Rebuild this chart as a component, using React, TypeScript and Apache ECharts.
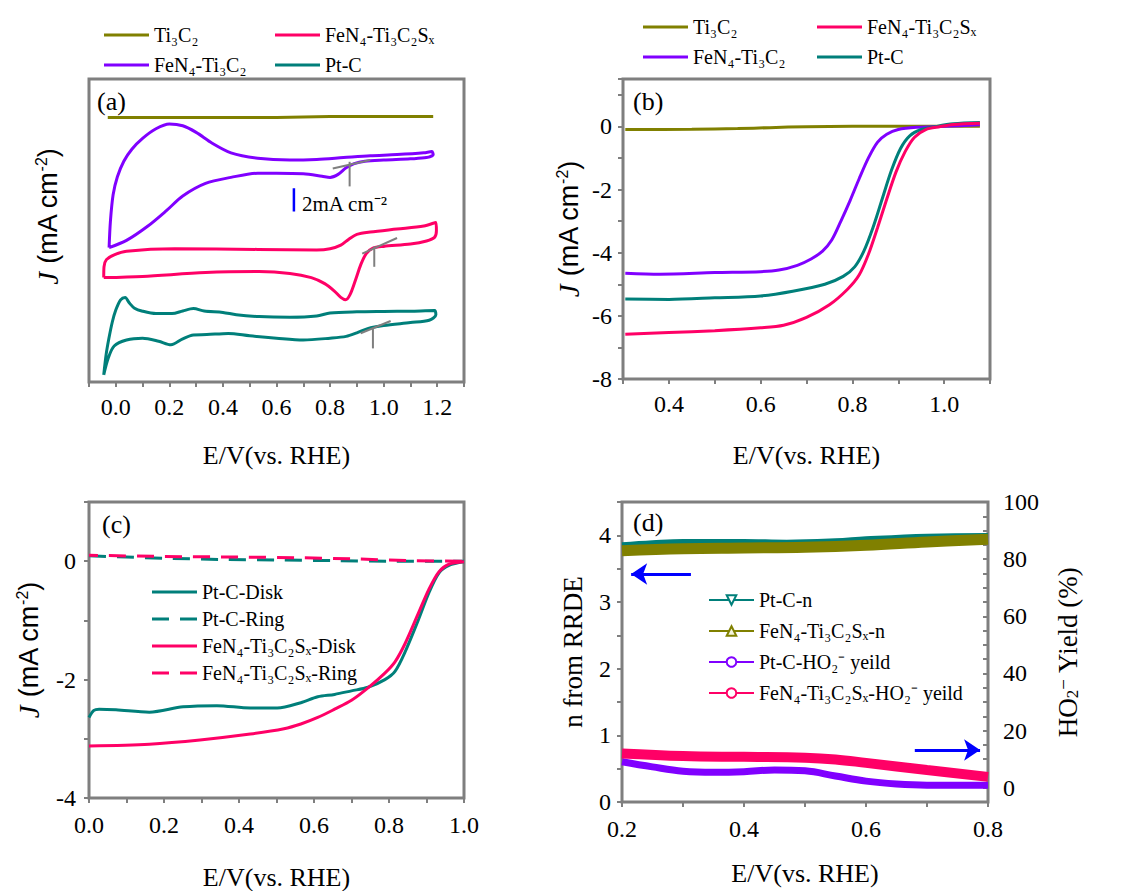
import React, { useEffect, useRef } from 'react';
import * as echarts from 'echarts';

const SERIF = '"Liberation Serif", "Times New Roman", serif';
const SANS = '"Liberation Sans", Arial, sans-serif';
const OLIVE = '#808000';
const PURPLE = '#8000ff';
const PINK = '#ff0066';
const TEAL = '#007f7a';
const GRAY = '#7f7f7f';
const BLUE = '#0000ff';

// Legend names
const N_TI3C2 = 'Ti₃C₂';
const N_FEN4 = 'FeN₄-Ti₃C₂';
const N_FEN4S = 'FeN₄-Ti₃C₂Sₓ';
const N_PTC = 'Pt-C';
const C_NAMES = ['Pt-C-Disk', 'Pt-C-Ring', 'FeN₄-Ti₃C₂Sₓ-Disk', 'FeN₄-Ti₃C₂Sₓ-Ring'];
const D_NAMES = ['Pt-C-n', 'FeN₄-Ti₃C₂Sₓ-n', 'Pt-C-HO₂⁻ yeild', 'FeN₄-Ti₃C₂Sₓ-HO₂⁻ yeild'];

// (a) CV curves (offset, arbitrary vertical units in mA cm-2)
const A_TI3C2 = [[-0.03, 22.05], [0.3, 22.05], [0.6, 22.05], [0.8, 22.12], [1.0, 22.12], [1.185, 22.12]];
const A_FEN4 = [[-0.025, 11.2], [-0.02, 13.4], [-0.01, 15.6], [0.006, 17.1], [0.03, 18.4], [0.06, 19.4], [0.1, 20.3], [0.15, 21.1], [0.2, 21.5], [0.25, 21.35], [0.3, 20.8], [0.36, 19.9], [0.43, 19.1], [0.53, 18.65], [0.65, 18.5], [0.75, 18.55], [0.85, 18.7], [0.95, 18.85], [1.05, 18.95], [1.15, 19.1], [1.18, 19.2], [1.185, 18.95], [1.16, 18.7], [1.1, 18.6], [1.0, 18.5], [0.93, 18.4], [0.89, 18.2], [0.86, 17.85], [0.83, 17.3], [0.8, 17.05], [0.77, 17.15], [0.7, 17.35], [0.6, 17.4], [0.53, 17.4], [0.43, 17.05], [0.335, 16.55], [0.25, 15.5], [0.19, 14.3], [0.12, 13.0], [0.04, 11.8], [-0.025, 11.2]];
const A_FEN4S = [[-0.045, 8.7], [-0.044, 9.6], [-0.035, 10.2], [-0.006, 10.6], [0.04, 10.9], [0.22, 11.1], [0.53, 11.05], [0.75, 11.0], [0.8, 11.1], [0.84, 11.4], [0.87, 11.9], [0.9, 12.3], [0.95, 12.5], [1.05, 12.75], [1.15, 13.0], [1.195, 13.3], [1.197, 12.6], [1.19, 12.05], [1.16, 11.75], [1.1, 11.5], [1.0, 11.3], [0.96, 11.15], [0.935, 10.7], [0.915, 9.8], [0.895, 8.5], [0.875, 7.3], [0.858, 6.85], [0.84, 7.05], [0.815, 7.6], [0.78, 8.2], [0.73, 8.7], [0.65, 9.05], [0.535, 9.2], [0.335, 9.12], [0.1, 8.8], [-0.045, 8.7]];
const A_PTC = [[-0.045, 0.6], [-0.036, 2.3], [-0.026, 3.6], [-0.013, 5.0], [0.0, 6.0], [0.018, 6.85], [0.035, 7.05], [0.05, 6.6], [0.07, 6.15], [0.1, 5.9], [0.15, 5.7], [0.21, 5.7], [0.25, 5.92], [0.29, 6.12], [0.33, 5.92], [0.4, 5.8], [0.45, 5.6], [0.535, 5.45], [0.65, 5.4], [0.75, 5.5], [0.8, 5.75], [0.9, 5.85], [1.0, 5.88], [1.1, 5.9], [1.19, 5.95], [1.195, 5.6], [1.17, 5.15], [1.1, 4.95], [1.0, 4.7], [0.94, 4.45], [0.9, 4.1], [0.86, 3.8], [0.8, 3.65], [0.7, 3.5], [0.6, 3.65], [0.5, 3.85], [0.42, 4.05], [0.34, 3.95], [0.29, 3.92], [0.25, 3.6], [0.206, 3.1], [0.16, 3.4], [0.1, 3.65], [0.04, 3.5], [-0.006, 3.0], [-0.028, 2.0], [-0.045, 0.6]];
const A_ONSET_MARKS = [
  [[0.81, 17.8], [0.95, 18.5]],
  [[0.873, 18.35], [0.873, 16.3]],
  [[0.92, 10.7], [1.05, 12.0]],
  [[0.965, 11.3], [0.965, 9.6]],
  [[0.914, 4.06], [1.026, 5.08]],
  [[0.96, 4.47], [0.96, 2.8]],
];
const A_SCALE_BAR = [[0.665, 14.2], [0.665, 16.15]];

// (b) LSV curves
const B_TI3C2 = [[0.305, -0.1], [0.45, -0.09], [0.55, -0.07], [0.62, -0.04], [0.7, -0.01], [0.8, 0], [1.0, 0], [1.078, 0]];
const B_FEN4 = [[0.305, -4.65], [0.38, -4.68], [0.5, -4.63], [0.6, -4.6], [0.64, -4.55], [0.68, -4.4], [0.71, -4.2], [0.735, -3.95], [0.755, -3.6], [0.775, -3.0], [0.795, -2.35], [0.815, -1.65], [0.835, -1.0], [0.855, -0.5], [0.875, -0.25], [0.9, -0.1], [0.94, -0.03], [1.0, 0], [1.078, 0.05]];
const B_PTC = [[0.305, -5.47], [0.4, -5.48], [0.5, -5.43], [0.6, -5.37], [0.67, -5.22], [0.74, -5.0], [0.78, -4.75], [0.805, -4.45], [0.825, -3.95], [0.845, -3.2], [0.865, -2.3], [0.885, -1.4], [0.905, -0.7], [0.925, -0.3], [0.95, -0.1], [0.98, -0.01], [1.02, 0.08], [1.078, 0.12]];
const B_FEN4S = [[0.305, -6.58], [0.4, -6.53], [0.5, -6.47], [0.6, -6.38], [0.65, -6.3], [0.7, -6.05], [0.75, -5.65], [0.79, -5.15], [0.815, -4.7], [0.835, -4.05], [0.855, -3.2], [0.875, -2.3], [0.895, -1.45], [0.915, -0.8], [0.935, -0.35], [0.96, -0.1], [0.99, -0.01], [1.02, 0.06], [1.078, 0.1]];

// (c) RRDE disk / ring
const C_PTC_DISK = [[0, -2.64], [0.013, -2.52], [0.027, -2.5], [0.072, -2.51], [0.161, -2.55], [0.251, -2.46], [0.341, -2.44], [0.43, -2.48], [0.502, -2.48], [0.565, -2.39], [0.61, -2.29], [0.655, -2.25], [0.7, -2.19], [0.744, -2.13], [0.789, -2.0], [0.816, -1.86], [0.843, -1.53], [0.879, -0.98], [0.906, -0.54], [0.933, -0.2], [0.96, -0.07], [1.0, -0.01]];
const C_PTC_RING = [[0, 0.09], [0.1, 0.07], [0.2, 0.05], [0.35, 0.03], [0.5, 0.02], [0.65, 0.01], [0.8, 0], [1.0, 0]];
const C_FEN4S_DISK = [[0, -3.12], [0.161, -3.09], [0.296, -3.02], [0.43, -2.92], [0.52, -2.83], [0.565, -2.75], [0.61, -2.64], [0.655, -2.5], [0.7, -2.35], [0.744, -2.14], [0.789, -1.89], [0.816, -1.7], [0.843, -1.39], [0.879, -0.87], [0.906, -0.48], [0.933, -0.18], [0.96, -0.05], [1.0, -0.01]];
const C_FEN4S_RING = [[0, 0.1], [0.2, 0.08], [0.4, 0.07], [0.55, 0.06], [0.7, 0.04], [0.85, 0.01], [1.0, 0]];

// (d) electron number and HO2- yield
const D_PTC_N = [[0.2, 3.85], [0.25, 3.88], [0.3, 3.9], [0.4, 3.9], [0.47, 3.89], [0.55, 3.91], [0.6, 3.94], [0.7, 3.98], [0.8, 3.99]];
const D_FEN4S_N = [[0.2, 3.77], [0.3, 3.8], [0.4, 3.81], [0.5, 3.82], [0.6, 3.85], [0.7, 3.9], [0.8, 3.94]];
const D_PTC_Y = [[0.2, 9.1], [0.25, 7.3], [0.3, 5.8], [0.35, 5.4], [0.4, 5.6], [0.45, 6.2], [0.5, 5.9], [0.55, 4.1], [0.6, 2.3], [0.65, 1.3], [0.7, 0.9], [0.8, 0.9]];
const D_FEN4S_Y = [[0.2, 12.0], [0.3, 11.1], [0.4, 10.8], [0.5, 10.5], [0.55, 9.9], [0.6, 8.7], [0.7, 6.2], [0.8, 3.8]];
const D_ARROW_LEFT = [[0.313, 3.42], [0.215, 3.42]];
const D_ARROW_RIGHT = [[0.68, 13.2], [0.787, 13.2]];

const SOLID_ICON = 'path://M0,0h45v3h-45z';
const DASH_ICON = 'path://M0,0h17v3h-17z M28,0h17v3h-17z';

const tenths = (lo: number, hi: number) => (v: number) => {
  const r = Math.round(v * 10);
  if (r % 2 !== 0 || r < Math.round(lo * 10) || r > Math.round(hi * 10)) return '';
  return (r / 10).toFixed(1);
};
const ints = (step: number, lo: number, hi: number) => (v: number) => {
  const r = Math.round(v);
  if (Math.abs(v - r) > 1e-6 || r % step !== 0 || r < lo || r > hi) return '';
  return String(r === 0 ? 0 : r);
};

const tickStyle = { show: true, length: 5, lineStyle: { color: GRAY, width: 2 } };
const labelBase = { fontFamily: SERIF, fontSize: 24, color: '#000' };
const nameBase = { fontFamily: SERIF, fontSize: 26, color: '#000' };
const jName = '{i|J} (mA cm{s|-2})';
const jNameStyle = {
  fontFamily: SANS, fontSize: 27, color: '#000',
  rich: {
    i: { fontFamily: SERIF, fontStyle: 'italic', fontSize: 29, color: '#000' },
    s: { fontFamily: SANS, fontSize: 16, verticalAlign: 'top', color: '#000' },
  },
};

function xAxisOf(gridIndex: number, min: number, max: number, lo: number, hi: number, nameGap: number, margin: number) {
  return {
    type: 'value', gridIndex, min, max, interval: 0.1,
    name: 'E/V(vs. RHE)', nameLocation: 'middle', nameGap, nameTextStyle: nameBase,
    axisLine: { show: false, onZero: false },
    axisTick: tickStyle,
    axisLabel: { ...labelBase, margin, formatter: tenths(lo, hi) },
    splitLine: { show: false },
  };
}

function lineSeries(name: string, data: number[][], color: string, xi: number, yi: number, extra: any = {}) {
  return {
    type: 'line', name, data, xAxisIndex: xi, yAxisIndex: yi,
    symbol: 'none', smooth: 0.3, silent: true,
    lineStyle: { color, width: 3, ...(extra.lineStyle || {}) },
    itemStyle: { color, ...(extra.itemStyle || {}) },
    ...Object.fromEntries(Object.entries(extra).filter(([k]) => k !== 'lineStyle' && k !== 'itemStyle')),
  };
}

const legendBase = {
  orient: 'vertical', selectedMode: false, itemWidth: 45, itemHeight: 3,
  textStyle: { fontFamily: SERIF, fontSize: 20, color: '#000' },
};
const solid = (names: string[]) => names.map((name) => ({ name, icon: SOLID_ICON }));

export default function App() {
  const ref = useRef<HTMLDivElement>(null);
  useEffect(() => {
    if (!ref.current) return;
    const chart = echarts.init(ref.current, undefined, { renderer: 'svg' });
    const gridBase = { show: true, borderColor: GRAY, borderWidth: 3, backgroundColor: 'transparent', containLabel: false };
    const option: any = {
      animation: false,
      textStyle: { fontFamily: SERIF },
      grid: [
        { ...gridBase, left: 89, top: 79, width: 375, height: 303 },
        { ...gridBase, left: 623, top: 79, width: 367, height: 300 },
        { ...gridBase, left: 89, top: 502, width: 375, height: 299 },
        { ...gridBase, left: 622, top: 502, width: 366, height: 300 },
      ],
      xAxis: [
        xAxisOf(0, -0.1, 1.3, 0, 1.2, 60, 13),
        xAxisOf(1, 0.3, 1.1, 0.4, 1.0, 63, 13),
        xAxisOf(2, 0, 1.0, 0, 1.0, 66, 15),
        xAxisOf(3, 0.2, 0.8, 0.2, 0.8, 58, 15),
      ],
      yAxis: [
        {
          type: 'value', gridIndex: 0, min: 0, max: 25.25,
          name: jName, nameLocation: 'middle', nameRotate: 90, nameGap: 27,
          nameTextStyle: { ...jNameStyle, padding: [0, 0, 0, 28] },
          axisLine: { show: false, onZero: false }, axisTick: { show: false }, axisLabel: { show: false }, splitLine: { show: false },
        },
        {
          type: 'value', gridIndex: 1, min: -8, max: 1.5, interval: 1,
          name: jName, nameLocation: 'middle', nameRotate: 90, nameGap: 40, nameTextStyle: jNameStyle,
          axisLine: { show: false, onZero: false }, axisTick: tickStyle,
          axisLabel: { ...labelBase, margin: 11, formatter: ints(2, -8, 0) }, splitLine: { show: false },
        },
        {
          type: 'value', gridIndex: 2, min: -4, max: 1, interval: 1,
          name: jName, nameLocation: 'middle', nameRotate: 90, nameGap: 46, nameTextStyle: jNameStyle,
          axisLine: { show: false, onZero: false }, axisTick: tickStyle,
          axisLabel: { ...labelBase, margin: 13, formatter: ints(2, -4, 0) }, splitLine: { show: false },
        },
        {
          type: 'value', gridIndex: 3, min: 0, max: 4.5, interval: 0.5,
          name: 'n from RRDE', nameLocation: 'middle', nameRotate: 90, nameGap: 36, nameTextStyle: { ...nameBase, fontSize: 27 },
          axisLine: { show: false, onZero: false }, axisTick: tickStyle,
          axisLabel: { ...labelBase, margin: 11, formatter: ints(1, 0, 4) }, splitLine: { show: false },
        },
        {
          type: 'value', gridIndex: 3, position: 'right', min: -5, max: 100, interval: 5,
          name: 'HO{b|2}{t|−} Yield (%)', nameLocation: 'middle', nameRotate: 90, nameGap: 66,
          nameTextStyle: {
            ...nameBase, fontSize: 27,
            rich: {
              b: { fontFamily: SERIF, fontSize: 17, verticalAlign: 'bottom', color: '#000' },
              t: { fontFamily: SERIF, fontSize: 19, verticalAlign: 'top', color: '#000' },
            },
          },
          axisLine: { show: false, onZero: false }, axisTick: { ...tickStyle, inside: true },
          axisLabel: { ...labelBase, margin: 15, formatter: ints(20, 0, 100) }, splitLine: { show: false },
        },
      ],
      legend: [
        { ...legendBase, left: 99, top: 20, itemGap: 10, data: solid([N_TI3C2, N_FEN4]) },
        { ...legendBase, left: 270, top: 20, itemGap: 10, data: solid([N_FEN4S, N_PTC]) },
        { ...legendBase, left: 638, top: 12, itemGap: 10, data: solid([N_TI3C2, N_FEN4]) },
        { ...legendBase, left: 812, top: 12, itemGap: 10, data: solid([N_FEN4S, N_PTC]) },
        {
          ...legendBase, left: 147, top: 577, itemGap: 7,
          data: [
            { name: C_NAMES[0], icon: SOLID_ICON },
            { name: C_NAMES[1], icon: DASH_ICON },
            { name: C_NAMES[2], icon: SOLID_ICON },
            { name: C_NAMES[3], icon: DASH_ICON },
          ],
        },
        { ...legendBase, left: 703, top: 585, itemGap: 11, itemHeight: 12, data: D_NAMES },
      ],
      graphic: [
        { type: 'text', left: 97, top: 88, style: { text: '(a)', fontFamily: SERIF, fontSize: 26, fill: '#000' } },
        { type: 'text', left: 633, top: 88, style: { text: '(b)', fontFamily: SERIF, fontSize: 26, fill: '#000' } },
        { type: 'text', left: 102, top: 511, style: { text: '(c)', fontFamily: SERIF, fontSize: 26, fill: '#000' } },
        { type: 'text', left: 633, top: 509, style: { text: '(d)', fontFamily: SERIF, fontSize: 26, fill: '#000' } },
        { type: 'text', left: 302, top: 193, style: { text: '2mA cm⁻²', fontFamily: SERIF, fontSize: 21, fill: '#000' } },
      ],
      series: [
        // (a)
        lineSeries(N_TI3C2, A_TI3C2, OLIVE, 0, 0, { smooth: false }),
        lineSeries(N_FEN4, A_FEN4, PURPLE, 0, 0),
        lineSeries(N_FEN4S, A_FEN4S, PINK, 0, 0),
        lineSeries(N_PTC, A_PTC, TEAL, 0, 0),
        ...A_ONSET_MARKS.map((seg) => lineSeries('', seg, GRAY, 0, 0, { smooth: false, z: 5, lineStyle: { width: 2 } })),
        lineSeries('', A_SCALE_BAR, BLUE, 0, 0, { smooth: false, z: 5, lineStyle: { width: 2.5 } }),
        // (b)
        lineSeries(N_TI3C2, B_TI3C2, OLIVE, 1, 1),
        lineSeries(N_FEN4, B_FEN4, PURPLE, 1, 1),
        lineSeries(N_PTC, B_PTC, TEAL, 1, 1),
        lineSeries(N_FEN4S, B_FEN4S, PINK, 1, 1),
        // (c)
        lineSeries(C_NAMES[0], C_PTC_DISK, TEAL, 2, 2),
        lineSeries(C_NAMES[1], C_PTC_RING, TEAL, 2, 2, { lineStyle: { type: [17, 11] } }),
        lineSeries(C_NAMES[2], C_FEN4S_DISK, PINK, 2, 2),
        lineSeries(C_NAMES[3], C_FEN4S_RING, PINK, 2, 2, { lineStyle: { type: [17, 11], dashOffset: 8 } }),
        // (d)
        lineSeries(D_NAMES[0], D_PTC_N, TEAL, 3, 3, {
          symbol: 'triangle', symbolRotate: 180, symbolSize: 10, showSymbol: false, smooth: 0.4,
          lineStyle: { width: 6 }, itemStyle: { color: '#ffffff', borderColor: TEAL, borderWidth: 1.5 },
        }),
        lineSeries(D_NAMES[1], D_FEN4S_N, OLIVE, 3, 3, {
          symbol: 'triangle', symbolSize: 11, showSymbol: false, smooth: 0.4,
          lineStyle: { width: 11 }, itemStyle: { color: '#f4f4dc', borderColor: OLIVE, borderWidth: 1.5 },
          markLine: {
            silent: true, symbol: ['none', 'arrow'], symbolSize: 16,
            lineStyle: { color: BLUE, width: 3, type: 'solid' }, label: { show: false },
            data: [[{ coord: D_ARROW_LEFT[0] }, { coord: D_ARROW_LEFT[1] }]],
          },
        }),
        lineSeries(D_NAMES[2], D_PTC_Y, PURPLE, 3, 4, {
          symbol: 'circle', symbolSize: 10, showSymbol: false, smooth: 0.4,
          lineStyle: { width: 7 }, itemStyle: { color: '#ffffff', borderColor: PURPLE, borderWidth: 2 },
          markLine: {
            silent: true, symbol: ['none', 'arrow'], symbolSize: 16,
            lineStyle: { color: BLUE, width: 3, type: 'solid' }, label: { show: false },
            data: [[{ coord: D_ARROW_RIGHT[0] }, { coord: D_ARROW_RIGHT[1] }]],
          },
        }),
        lineSeries(D_NAMES[3], D_FEN4S_Y, PINK, 3, 4, {
          symbol: 'circle', symbolSize: 10, showSymbol: false, smooth: 0.4,
          lineStyle: { width: 10 }, itemStyle: { color: '#ffffff', borderColor: PINK, borderWidth: 2 },
        }),
      ],
    };
    chart.setOption(option);
    return () => chart.dispose();
  }, []);
  return <div ref={ref} style={{ position: 'absolute', left: 0, top: 0, width: 1132, height: 891, background: '#fff' }} />;
}
